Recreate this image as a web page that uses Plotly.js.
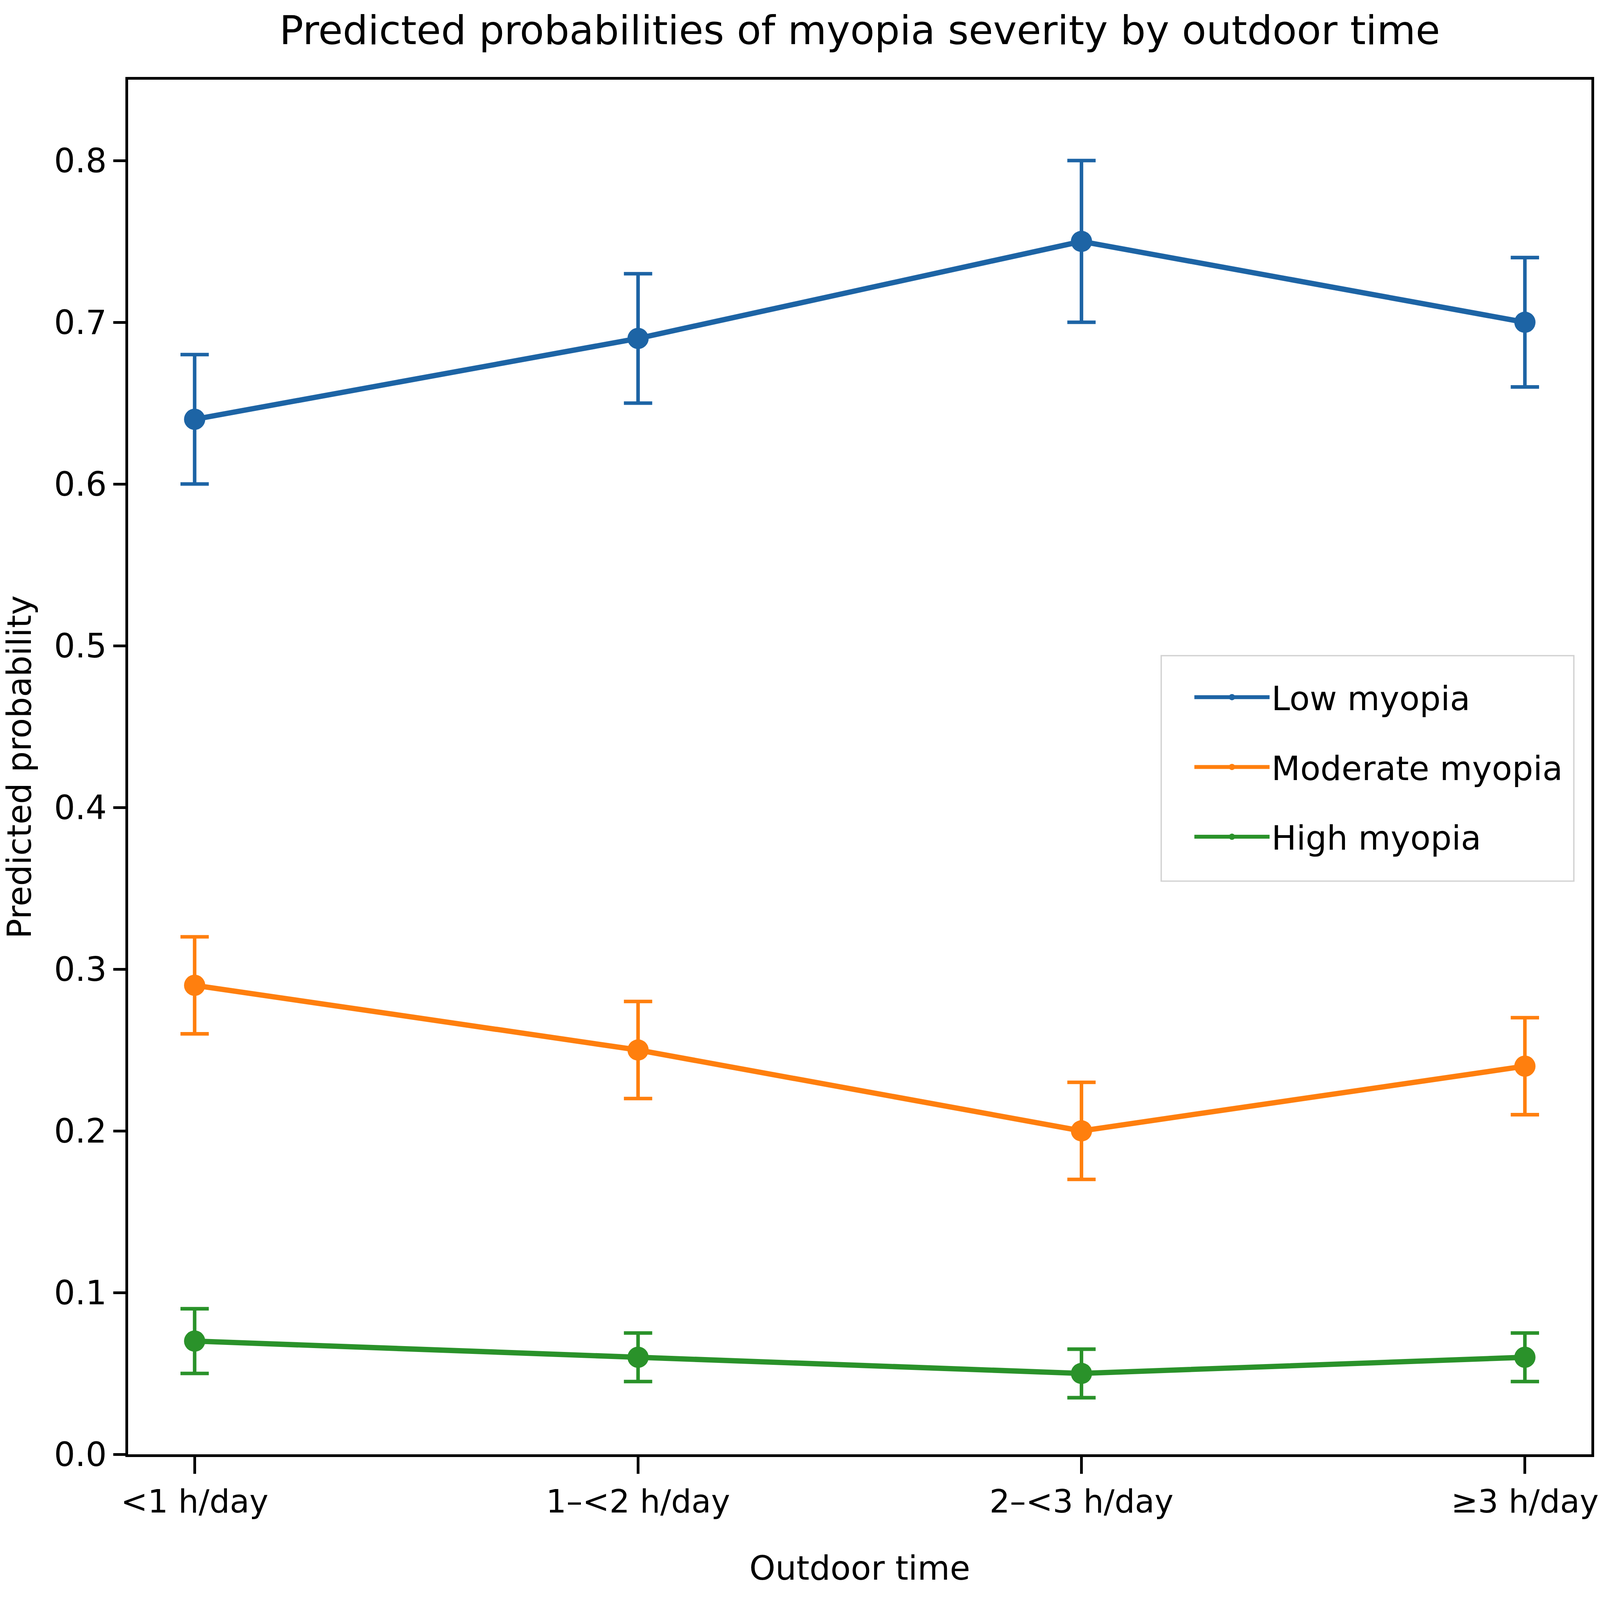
<!DOCTYPE html>
<html>
<head>
<meta charset="utf-8">
<script src="https://cdn.plot.ly/plotly-3.0.1.min.js"></script>
<style>
  html, body { margin: 0; padding: 0; background: #ffffff; overflow: hidden; }
</style>
</head>
<body>
<div id="chart"></div>
<script>
// ─── Data ───
const outdoorTime = ["<1 h/day", "1–<2 h/day", "2–<3 h/day", "≥3 h/day"];

const lowProb = [0.64, 0.69, 0.75, 0.70];
const lowLo = [0.60, 0.65, 0.70, 0.66];
const lowHi = [0.68, 0.73, 0.80, 0.74];

const modProb = [0.29, 0.25, 0.20, 0.24];
const modLo = [0.26, 0.22, 0.17, 0.21];
const modHi = [0.32, 0.28, 0.23, 0.27];

const highProb = [0.07, 0.06, 0.05, 0.06];
const highLo = [0.05, 0.045, 0.035, 0.045];
const highHi = [0.09, 0.075, 0.065, 0.075];

const yTicks = [0, 0.1, 0.2, 0.3, 0.4, 0.5, 0.6, 0.7, 0.8];

// ─── Sizing ───
// Reference is 7233x5148; sizes below are in reference pixels and get
// scaled to whatever window the page actually has.
const REF_W = 7233;
const REF_H = 5148;
const W = window.innerWidth || REF_W;
const H = window.innerHeight || REF_H;
const sx = W / REF_W;
const sy = H / REF_H;
const fs = Math.min(sx, sy);

const FONT = "DejaVu Sans, Liberation Sans, sans-serif";
const TEXT_SIZE = 150 * fs;
const XTICK_SIZE = 145 * fs;
const TITLE_SIZE = 180 * fs;

const series = [
  { name: "Low myopia", y: lowProb, lo: lowLo, hi: lowHi, color: "#1d64a5" },
  { name: "Moderate myopia", y: modProb, lo: modLo, hi: modHi, color: "#ff7f0e" },
  { name: "High myopia", y: highProb, lo: highLo, hi: highHi, color: "#2a922a" },
];

const traces = series.map((s, i) => ({
  x: outdoorTime,
  y: s.y,
  type: "scatter",
  mode: "lines+markers",
  name: s.name,
  legendgroup: "g" + i,
  line: { color: s.color, width: 24 * fs },
  marker: { color: s.color, size: 96 * fs },
  error_y: {
    type: "data",
    symmetric: false,
    array: s.hi.map((h, k) => h - s.y[k]),
    arrayminus: s.lo.map((l, k) => s.y[k] - l),
    color: s.color,
    thickness: 16 * fs,
    width: 64 * sx,
  },
}));

const axisBase = {
  showline: true,
  linecolor: "#000000",
  linewidth: 13 * fs,
  mirror: true,
  showgrid: false,
  zeroline: false,
  ticks: "outside",
  tickwidth: 12 * fs,
  tickcolor: "#000000",
  tickfont: { family: FONT, size: TEXT_SIZE, color: "#000000" },
};

// legend frame (matplotlib style box), in axes fractions
const legendBox = {
  type: "rect",
  xref: "paper",
  yref: "paper",
  x0: 0.706,
  x1: 0.988,
  y0: 0.417,
  y1: 0.581,
  line: { color: "#d2d2d2", width: 6 * fs },
  fillcolor: "rgba(255,255,255,0.8)",
  layer: "above",
};

const layout = {
  width: W,
  height: H,
  paper_bgcolor: "#ffffff",
  plot_bgcolor: "#ffffff",
  font: { family: FONT, size: TEXT_SIZE, color: "#000000" },
  margin: { l: 579 * sx, r: 38 * sx, t: 257 * sy, b: 469 * sy, pad: 0 },
  title: {
    text: "Predicted probabilities of myopia severity by outdoor time",
    font: { family: FONT, size: TITLE_SIZE, color: "#000000" },
    xref: "paper",
    x: 0.5,
    xanchor: "center",
    yref: "paper",
    y: 1,
    yanchor: "bottom",
    pad: { b: 90 * sy + 19 },
  },
  xaxis: Object.assign({}, axisBase, {
    type: "category",
    categoryorder: "array",
    categoryarray: outdoorTime,
    range: [-0.15, 3.15],
    ticklen: 54 * sy,
    ticklabelstandoff: 20 * sy,
    tickfont: { family: FONT, size: XTICK_SIZE, color: "#000000" },
    title: {
      text: "Outdoor time",
      font: { family: FONT, size: TEXT_SIZE, color: "#000000" },
      standoff: 122 * sy,
    },
  }),
  yaxis: Object.assign({}, axisBase, {
    range: [0, 0.85],
    tickmode: "array",
    tickvals: yTicks,
    tickformat: ".1f",
    ticklen: 54 * sx,
    ticklabelstandoff: 12 * sx,
    title: {
      text: "Predicted probability",
      font: { family: FONT, size: TEXT_SIZE, color: "#000000" },
      standoff: 60 * sx,
    },
  }),
  shapes: [legendBox],
  showlegend: true,
  legend: {
    x: 0.982,
    xanchor: "right",
    y: 0.5,
    yanchor: "middle",
    bgcolor: "rgba(0,0,0,0)",
    borderwidth: 0,
    font: { family: FONT, size: TEXT_SIZE, color: "#000000" },
    traceorder: "grouped",
    tracegroupgap: 82 * sy,
    itemwidth: 340 * sx,
  },
};

Plotly.newPlot("chart", traces, layout, { displayModeBar: false, responsive: false });
</script>
</body>
</html>
